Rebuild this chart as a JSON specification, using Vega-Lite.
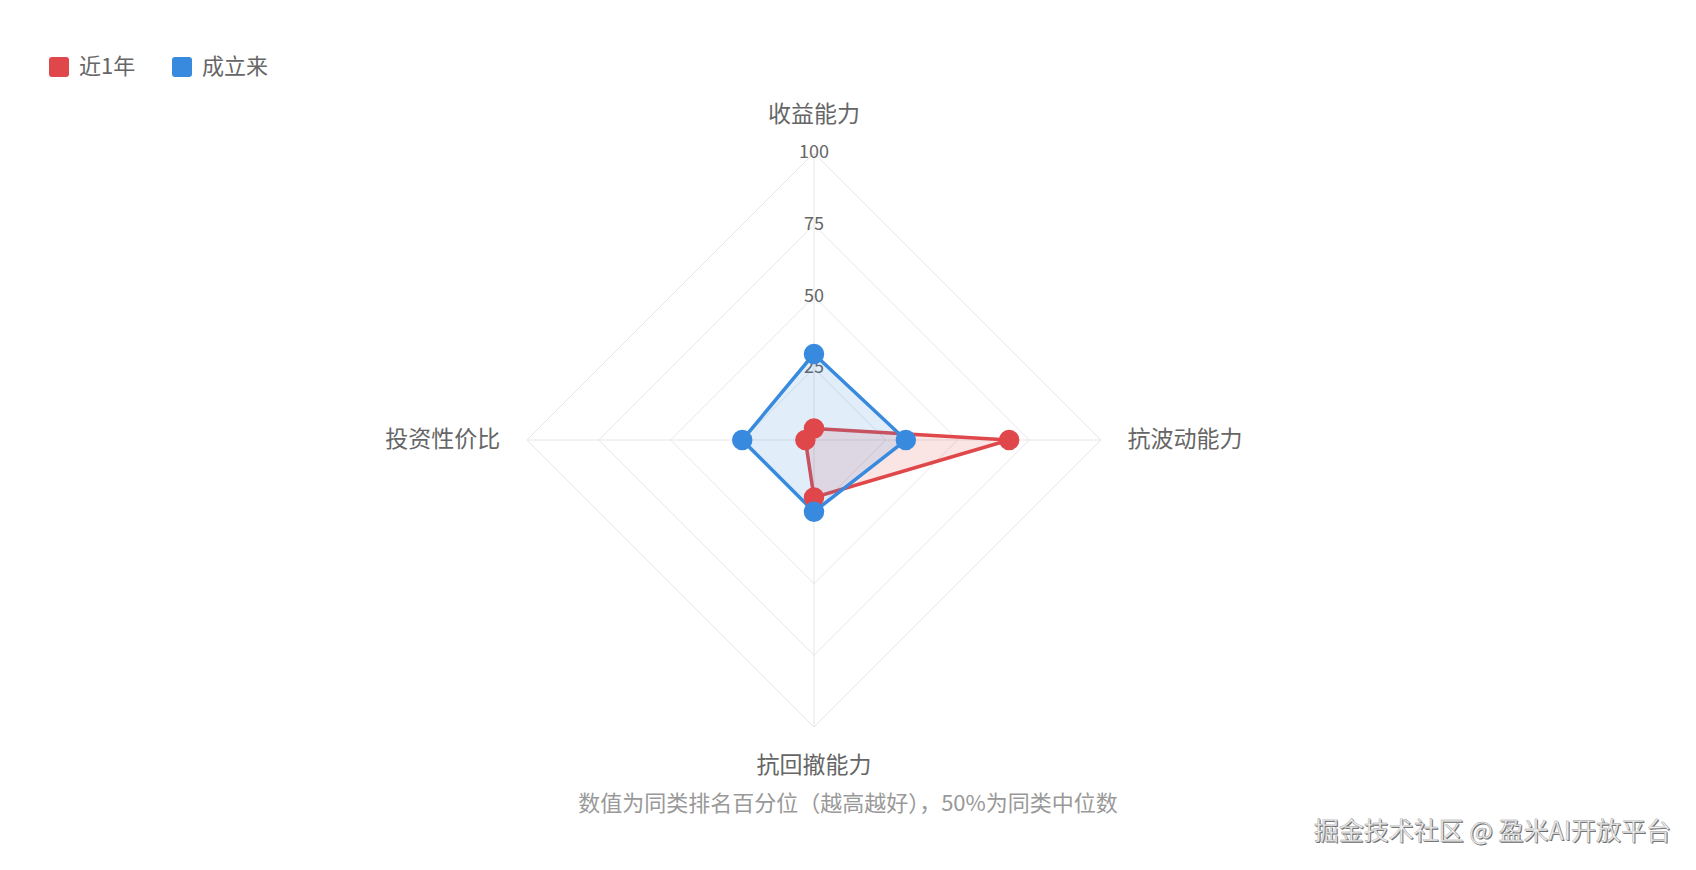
{
  "$schema": "https://vega.github.io/schema/vega-lite/v6.json",
  "width": 1696,
  "height": 870,
  "autosize": "none",
  "padding": 0,
  "background": "white",
  "config": {
    "view": {"stroke": null},
    "font": "Noto Sans CJK SC",
    "legend": {
      "orient": "none",
      "legendX": 48,
      "legendY": 56,
      "direction": "horizontal",
      "padding": 0,
      "symbolType": "M-1,-0.7Q-1,-1,-0.7,-1L0.7,-1Q1,-1,1,-0.7L1,0.7Q1,1,0.7,1L-0.7,1Q-1,1,-1,0.7Z",
      "symbolSize": 400,
      "symbolStrokeWidth": 0,
      "symbolOpacity": 1,
      "labelFont": "Noto Sans CJK SC",
      "labelFontSize": 22,
      "labelColor": "#666666",
      "labelOffset": 9,
      "columnPadding": 35
    }
  },
  "datasets": {
    "dims": [
      {"dim": "收益能力", "order": 0},
      {"dim": "抗波动能力", "order": 1},
      {"dim": "抗回撤能力", "order": 2},
      {"dim": "投资性价比", "order": 3}
    ],
    "scores": [
      {"series": "近1年", "dim": "收益能力", "value": 4},
      {"series": "近1年", "dim": "抗波动能力", "value": 68},
      {"series": "近1年", "dim": "抗回撤能力", "value": 20},
      {"series": "近1年", "dim": "投资性价比", "value": 3},
      {"series": "成立来", "dim": "收益能力", "value": 30},
      {"series": "成立来", "dim": "抗波动能力", "value": 32},
      {"series": "成立来", "dim": "抗回撤能力", "value": 25},
      {"series": "成立来", "dim": "投资性价比", "value": 25}
    ],
    "rings": [
      {"ring": 25, "dim": "收益能力"}, {"ring": 25, "dim": "抗波动能力"}, {"ring": 25, "dim": "抗回撤能力"}, {"ring": 25, "dim": "投资性价比"},
      {"ring": 50, "dim": "收益能力"}, {"ring": 50, "dim": "抗波动能力"}, {"ring": 50, "dim": "抗回撤能力"}, {"ring": 50, "dim": "投资性价比"},
      {"ring": 75, "dim": "收益能力"}, {"ring": 75, "dim": "抗波动能力"}, {"ring": 75, "dim": "抗回撤能力"}, {"ring": 75, "dim": "投资性价比"},
      {"ring": 100, "dim": "收益能力"}, {"ring": 100, "dim": "抗波动能力"}, {"ring": 100, "dim": "抗回撤能力"}, {"ring": 100, "dim": "投资性价比"}
    ],
    "ticks": [{"tick": 25}, {"tick": 50}, {"tick": 75}, {"tick": 100}],
    "credit": [{"label": "掘金技术社区 @ 盈米AI开放平台"}]
  },
  "title": {
    "text": "数值为同类排名百分位（越高越好），50%为同类中位数",
    "orient": "top",
    "anchor": "middle",
    "frame": "group",
    "offset": 0,
    "dy": 826,
    "baseline": "middle",
    "font": "Noto Sans CJK SC",
    "fontSize": 22,
    "fontWeight": "normal",
    "color": "#999999"
  },
  "encoding": {
    "x": {"field": "px", "type": "quantitative", "scale": {"domain": [-283.6, 307.3], "nice": false, "zero": false}, "axis": null},
    "y": {"field": "py", "type": "quantitative", "scale": {"domain": [-149.8, 153.3], "nice": false, "zero": false}, "axis": null}
  },
  "layer": [
    {
      "data": {"name": "rings"},
      "transform": [
        {"lookup": "dim", "from": {"data": {"name": "dims"}, "key": "dim", "fields": ["order"]}},
        {"calculate": "datum.ring * sin(datum.order * PI / 2)", "as": "px"},
        {"calculate": "datum.ring * cos(datum.order * PI / 2)", "as": "py"}
      ],
      "mark": {"type": "line", "interpolate": "linear-closed", "color": "#e6e6e6", "strokeWidth": 1},
      "encoding": {
        "detail": {"field": "ring", "type": "nominal"},
        "order": {"field": "order", "type": "quantitative"}
      }
    },
    {
      "data": {"name": "dims"},
      "transform": [
        {"calculate": "100 * sin(datum.order * PI / 2)", "as": "px"},
        {"calculate": "100 * cos(datum.order * PI / 2)", "as": "py"},
        {"calculate": "0", "as": "cx"},
        {"calculate": "0", "as": "cy"}
      ],
      "mark": {"type": "rule", "color": "#e6e6e6", "strokeWidth": 1},
      "encoding": {
        "x2": {"field": "cx"},
        "y2": {"field": "cy"}
      }
    },
    {
      "data": {"name": "ticks"},
      "transform": [
        {"calculate": "0", "as": "px"},
        {"calculate": "datum.tick", "as": "py"}
      ],
      "mark": {"type": "text", "fontSize": 18, "color": "#666666", "align": "center", "baseline": "middle"},
      "encoding": {
        "text": {"field": "tick", "type": "quantitative"}
      }
    },
    {
      "data": {"name": "scores"},
      "transform": [
        {"lookup": "dim", "from": {"data": {"name": "dims"}, "key": "dim", "fields": ["order"]}},
        {"calculate": "datum.value * sin(datum.order * PI / 2)", "as": "px"},
        {"calculate": "datum.value * cos(datum.order * PI / 2)", "as": "py"}
      ],
      "mark": {"type": "line", "interpolate": "linear-closed", "strokeWidth": 3.5, "fillOpacity": 0.15},
      "encoding": {
        "color": {
          "field": "series",
          "type": "nominal",
          "scale": {"domain": ["近1年", "成立来"], "range": ["#e0474a", "#378ade"]},
          "legend": {"title": null}
        },
        "fill": {
          "field": "series",
          "type": "nominal",
          "scale": {"domain": ["近1年", "成立来"], "range": ["#e0474a", "#378ade"]},
          "legend": null
        },
        "order": {"field": "order", "type": "quantitative"}
      }
    },
    {
      "data": {"name": "scores"},
      "transform": [
        {"lookup": "dim", "from": {"data": {"name": "dims"}, "key": "dim", "fields": ["order"]}},
        {"calculate": "datum.value * sin(datum.order * PI / 2)", "as": "px"},
        {"calculate": "datum.value * cos(datum.order * PI / 2)", "as": "py"}
      ],
      "mark": {"type": "point", "filled": true, "size": 420, "opacity": 1},
      "encoding": {
        "color": {"field": "series", "type": "nominal", "legend": {"title": null}}
      }
    },
    {
      "data": {"name": "dims"},
      "transform": [
        {"calculate": "129.3 * sin(datum.order * PI / 2)", "as": "px"},
        {"calculate": "113.4 * cos(datum.order * PI / 2)", "as": "py"}
      ],
      "mark": {"type": "text", "fontSize": 23, "color": "#666666", "align": "center", "baseline": "middle"},
      "encoding": {
        "text": {"field": "dim"}
      }
    },
    {
      "data": {"name": "credit"},
      "transform": [
        {"calculate": "298.6", "as": "px"},
        {"calculate": "-136.6", "as": "py"}
      ],
      "mark": {"type": "text", "fontSize": 25, "color": "#6a6a6a", "align": "right", "baseline": "middle", "dx": 1, "dy": 1},
      "encoding": {
        "text": {"field": "label"}
      }
    },
    {
      "data": {"name": "credit"},
      "transform": [
        {"calculate": "298.6", "as": "px"},
        {"calculate": "-136.6", "as": "py"}
      ],
      "mark": {"type": "text", "fontSize": 25, "color": "#eeeeee", "stroke": "#9a9a9a", "strokeWidth": 0.4, "align": "right", "baseline": "middle"},
      "encoding": {
        "text": {"field": "label"}
      }
    }
  ]
}
